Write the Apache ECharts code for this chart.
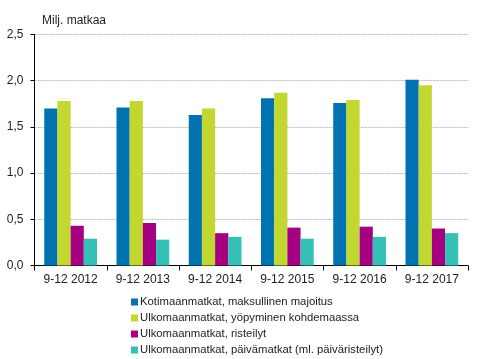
<!DOCTYPE html>
<html><head><meta charset="utf-8">
<script src="https://cdn.jsdelivr.net/npm/echarts@6/dist/echarts.min.js"></script>
<style>html,body{margin:0;padding:0;background:#fff}#c{width:491px;height:359px}</style>
</head><body><div id="c"></div>
<script>
const categories = ['9-12 2012','9-12 2013','9-12 2014','9-12 2015','9-12 2016','9-12 2017'];
const seriesNames = ['Kotimaanmatkat, maksullinen majoitus','Ulkomaanmatkat, yöpyminen kohdemaassa','Ulkomaanmatkat, risteilyt','Ulkomaanmatkat, päivämatkat (ml. päiväristeilyt)'];
const kotimaan = [1.70, 1.71, 1.63, 1.81, 1.76, 2.01];
const ulkoYo = [1.78, 1.78, 1.70, 1.87, 1.79, 1.95];
const risteilyt = [0.43, 0.46, 0.35, 0.41, 0.42, 0.40];
const paiva = [0.29, 0.28, 0.31, 0.29, 0.31, 0.35];
const colors = ['#0073B0','#C2D72F','#A5007F','#35C1B8'];
const yTitle = 'Milj. matkaa';

const chart = echarts.init(document.getElementById('c'));
const font = 'Liberation Sans, Arial, sans-serif';
const data = [kotimaan, ulkoYo, risteilyt, paiva];
chart.setOption({
  animation: false,
  textStyle: {fontFamily: font},
  title: {text: yTitle, left: 37, top: 10, textStyle: {fontSize: 12, fontWeight: 'normal', color: '#222', fontFamily: font}},
  grid: {left: 34.5, right: 23, top: 34.5, bottom: 93.5, containLabel: false},
  legend: {
    orient: 'vertical', left: 131, top: 294, padding: 0, height: 65, itemWidth: 7, itemHeight: 7, itemGap: 0,
    icon: 'rect',
    textStyle: {fontSize: 11.3, color: '#222', lineHeight: 16, padding: [0,0,0,-3], fontFamily: font},
    data: seriesNames
  },
  xAxis: {
    type: 'category', data: categories,
    axisLine: {lineStyle: {color: '#000', width: 1}},
    axisTick: {show: true, alignWithLabel: false, length: 5, lineStyle: {color: '#000'}},
    axisLabel: {fontSize: 12, color: '#222', margin: 8, fontFamily: font}
  },
  yAxis: {
    type: 'value', min: 0, max: 2.5, interval: 0.5,
    axisLine: {show: true, lineStyle: {color: '#000'}},
    axisTick: {show: true, length: 4, lineStyle: {color: '#000'}},
    axisLabel: {fontSize: 12, color: '#222', margin: 11, fontFamily: font,
      formatter: v => v.toFixed(1).replace('.', ',')},
    splitLine: {lineStyle: {color: '#bbb', type: [2,1], width: 1}}
  },
  series: seriesNames.map((n, i) => ({
    name: n, type: 'bar', data: data[i], barGap: '0%', barCategoryGap: '27%',
    itemStyle: {color: colors[i]}
  }))
});
</script></body></html>
